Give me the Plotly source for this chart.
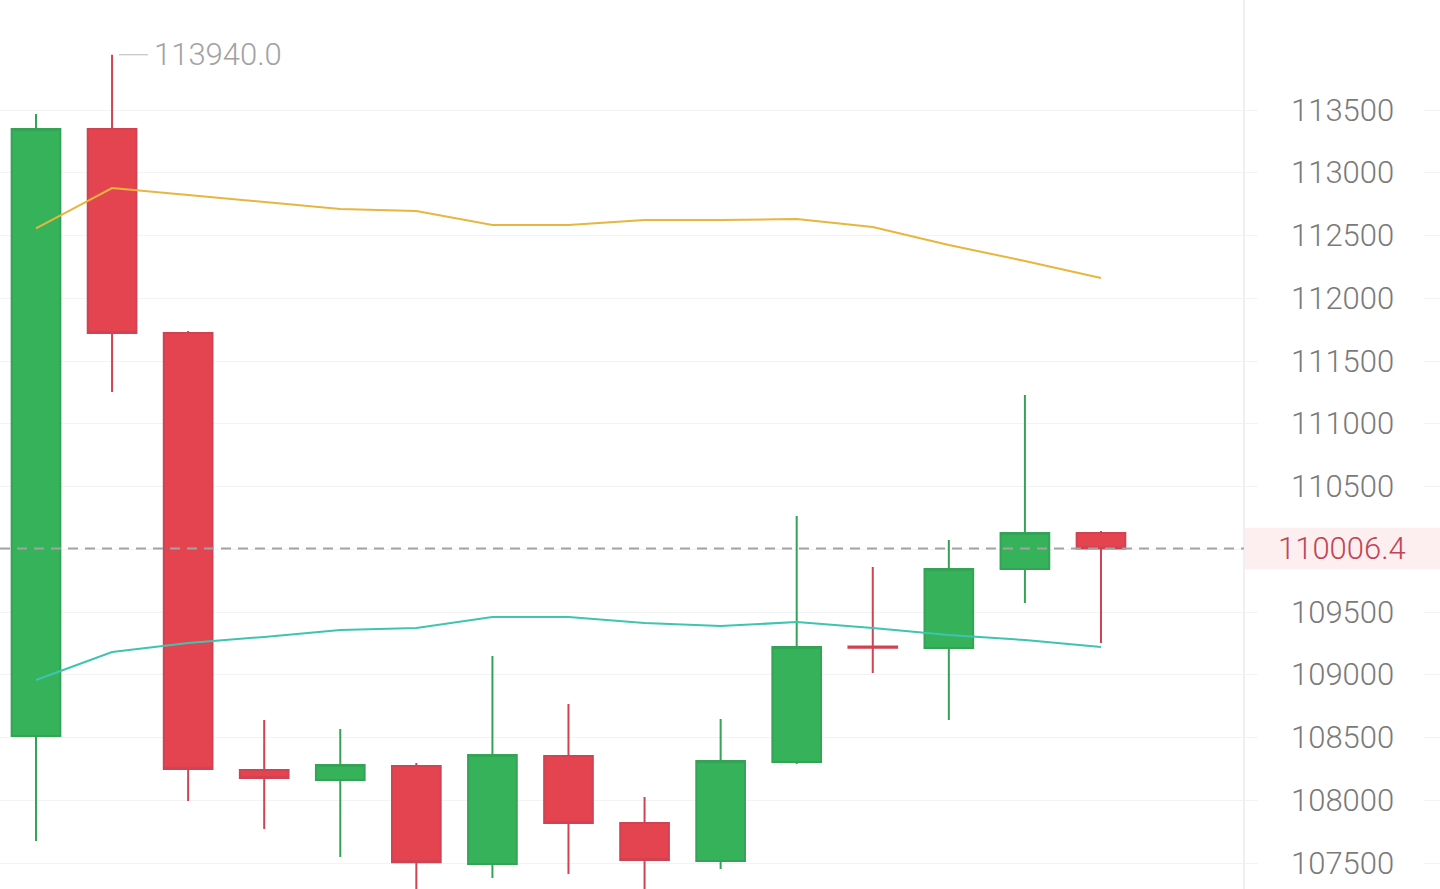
import plotly.graph_objects as go

# Candle index (no visible time labels on this chart)
idx = list(range(15))

opens  = [108512, 113349, 111723, 108241, 108161, 108273, 107492, 108353,
          107819, 107516, 108305, 109225, 109213, 109843, 110129]
highs  = [113468, 113940, 111739, 108639, 108568, 108297, 109149, 108767,
          108026, 108647, 110265, 109859, 110074, 111229, 110145]
lows   = [107675, 111253, 107994, 107771, 107548, 107180, 107380, 107412,
          107240, 107452, 108289, 109014, 108639, 109572, 109253]
closes = [113349, 111723, 108249, 108177, 108281, 107505, 108361, 107819,
          107524, 108313, 109221, 109215, 109843, 110129, 110006.4]

# Moving averages drawn over the candles
ma_slow = [112557, 112878, 112823, 112767, 112711, 112695, 112584, 112584,
           112624, 112624, 112631, 112568, 112424, 112297, 112161]
ma_fast = [108958, 109181, 109253, 109301, 109357, 109373, 109460, 109460,
           109412, 109388, 109420, 109373, 109317, 109277, 109221]

# Price scale
tick_vals = [107500, 108000, 108500, 109000, 109500, 110000,
             110500, 111000, 111500, 112000, 112500, 113000, 113500]

UP = "#36b25b"
DOWN = "#e3444f"
UP_LINE = "#33a456"
DOWN_LINE = "#cf4353"
FONT = "Roboto"

W, H = 1440, 889
PX_PER_CANDLE = 76.07
FIRST_CENTER = 36
AXIS_X = 1244  # left edge of the price column
LABEL_X = 1342

x0 = -FIRST_CENTER / PX_PER_CANDLE
x1 = x0 + W / PX_PER_CANDLE
PX_PER_UNIT = 753 / 6000
y_top = 113500 + 110 / PX_PER_UNIT
y_bot = 113500 - (H - 110) / PX_PER_UNIT

fig = go.Figure()

fig.add_trace(go.Candlestick(
    x=idx, open=opens, high=highs, low=lows, close=closes,
    increasing=dict(fillcolor=UP, line=dict(color=UP_LINE, width=2)),
    decreasing=dict(fillcolor=DOWN, line=dict(color=DOWN_LINE, width=2)),
    whiskerwidth=0, showlegend=False, hoverinfo="skip",
))

fig.add_trace(go.Scatter(
    x=idx, y=ma_slow, mode="lines",
    line=dict(color="#e8b53e", width=2), showlegend=False, hoverinfo="skip",
))
fig.add_trace(go.Scatter(
    x=idx, y=ma_fast, mode="lines",
    line=dict(color="#3fc4b0", width=2), showlegend=False, hoverinfo="skip",
))

last = closes[-1]
hi_i = max(range(len(highs)), key=lambda i: highs[i])
hi_v = highs[hi_i]

shapes = [
    # blank out grid behind the price column
    dict(type="rect", xref="paper", yref="paper", x0=1258 / W, x1=1424 / W,
         y0=0, y1=1, fillcolor="white", line=dict(width=0), layer="above"),
    # column separator
    dict(type="line", xref="paper", yref="paper", x0=AXIS_X / W, x1=AXIS_X / W,
         y0=0, y1=1, line=dict(color="#f0f0f0", width=2), layer="above"),
    # last price line
    dict(type="line", xref="paper", yref="y", x0=0, x1=AXIS_X / W,
         y0=last, y1=last, line=dict(color="#a3a3a3", width=2, dash="10px,7px"),
         layer="above"),
    # last price badge
    dict(type="rect", xref="paper", yref="y", x0=(AXIS_X + 1) / W, x1=1,
         y0=last - 165, y1=last + 165, fillcolor="#fdeff0",
         line=dict(width=0), layer="above"),
    # leader line for the session high
    dict(type="line", xref="x", yref="y", x0=hi_i + 7 / PX_PER_CANDLE,
         x1=hi_i + 36 / PX_PER_CANDLE, y0=hi_v, y1=hi_v,
         line=dict(color="#b8b8b8", width=1), layer="above"),
]

annotations = [
    dict(xref="paper", yref="y", x=LABEL_X / W, y=v, text=str(v),
         showarrow=False, xanchor="center", yanchor="middle",
         font=dict(family=FONT, size=31, color="#7a7a7a", weight=300))
    for v in tick_vals if abs(v - last) > 250
]
annotations.append(dict(
    xref="paper", yref="y", x=LABEL_X / W, y=last, text=f"{last:.1f}",
    showarrow=False, xanchor="center", yanchor="middle",
    font=dict(family=FONT, size=31, color="#c24556", weight=300),
))
annotations.append(dict(
    xref="x", yref="y", x=hi_i + 40 / PX_PER_CANDLE, y=hi_v, text=f"{hi_v:.1f}",
    showarrow=False, xanchor="left", yanchor="middle",
    font=dict(family=FONT, size=31, color="#a2a2a2", weight=300),
))

fig.update_layout(
    width=W, height=H,
    margin=dict(l=0, r=0, t=0, b=0),
    paper_bgcolor="white", plot_bgcolor="white",
    boxgap=0.36, boxgroupgap=0,
    shapes=shapes, annotations=annotations,
    xaxis=dict(range=[x0, x1], visible=False, rangeslider=dict(visible=False),
               fixedrange=True),
    yaxis=dict(range=[y_bot, y_top], tickvals=tick_vals, showticklabels=False,
               showgrid=True, gridcolor="#f3f3f3", gridwidth=1, zeroline=False,
               showline=False, ticks="", fixedrange=True),
)

fig.write_html("out.html", config={"displayModeBar": False})
